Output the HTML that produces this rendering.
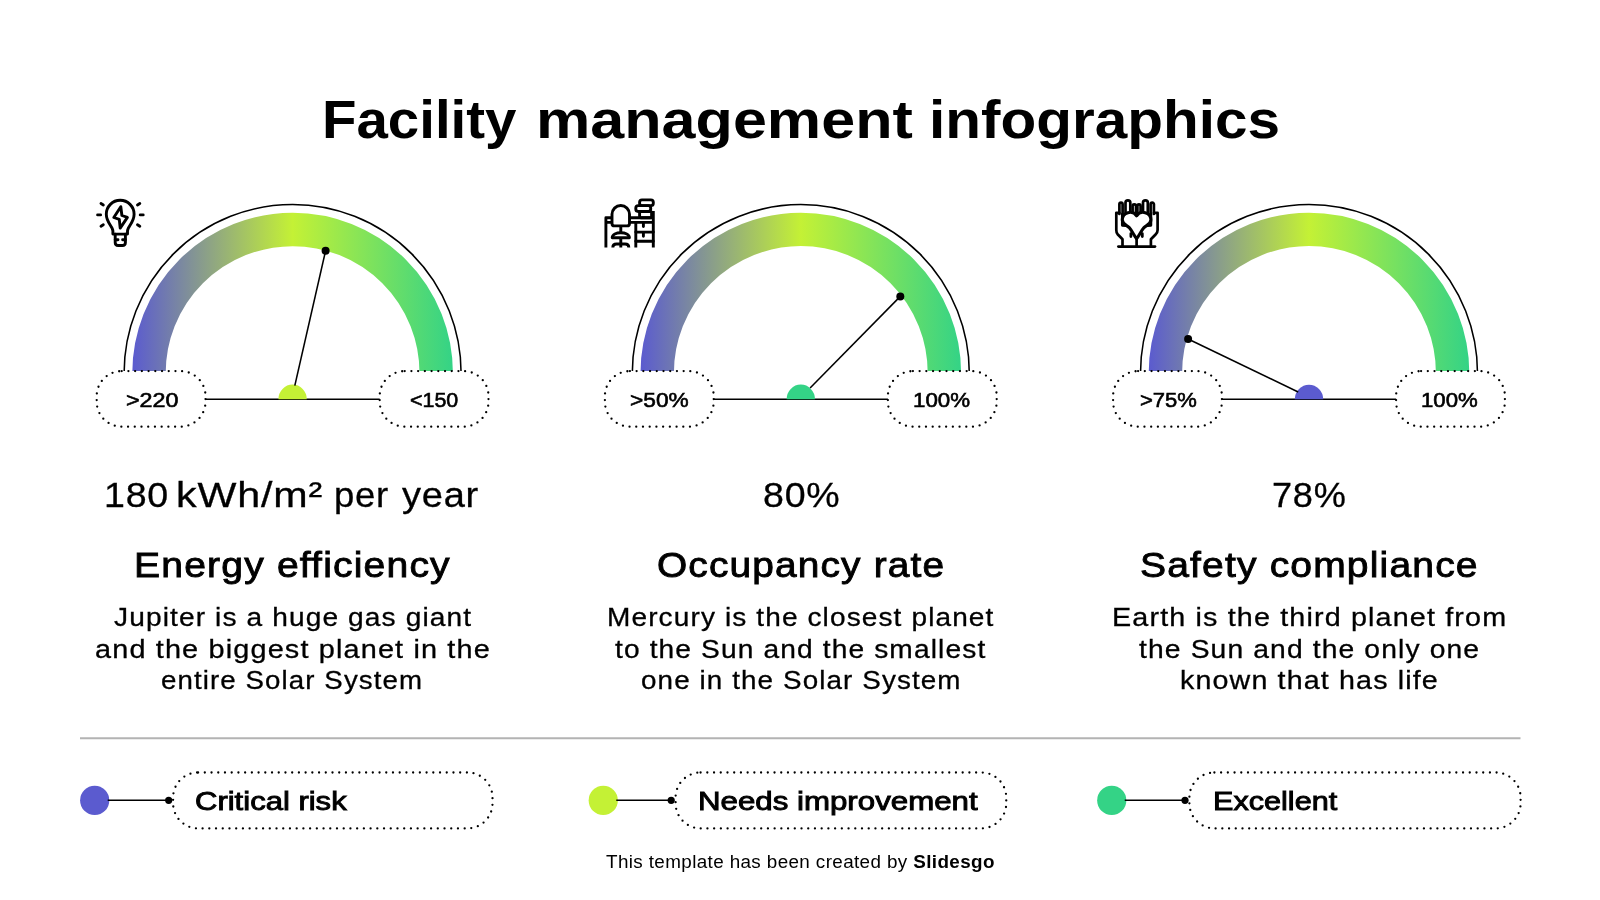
<!DOCTYPE html>
<html lang="en"><head><meta charset="utf-8"><title>Facility management infographics</title>
<style>
html,body{margin:0;padding:0;background:#fff}
body{width:1600px;height:900px;position:relative;overflow:hidden;font-family:"Liberation Sans", sans-serif;color:#000}
h1,h2,p,ul,li,section,footer{margin:0;padding:0;list-style:none;font-size:inherit;font-weight:inherit}
svg.g{position:absolute;left:0;top:0}
.t{position:absolute;display:block;white-space:nowrap;line-height:1;transform-origin:0 0;will-change:transform}
</style></head><body>
<svg class="g" width="1600" height="900" viewBox="0 0 1600 900">
<defs>
<linearGradient id="gr0" gradientUnits="userSpaceOnUse" x1="132.6" y1="0" x2="452.6" y2="0"><stop offset="0" stop-color="#5b5bcf"/><stop offset="0.5" stop-color="#c4f135"/><stop offset="1" stop-color="#34d386"/></linearGradient>
<linearGradient id="gr1" gradientUnits="userSpaceOnUse" x1="640.8" y1="0" x2="960.8" y2="0"><stop offset="0" stop-color="#5b5bcf"/><stop offset="0.5" stop-color="#c4f135"/><stop offset="1" stop-color="#34d386"/></linearGradient>
<linearGradient id="gr2" gradientUnits="userSpaceOnUse" x1="1149.0" y1="0" x2="1469.0" y2="0"><stop offset="0" stop-color="#5b5bcf"/><stop offset="0.5" stop-color="#c4f135"/><stop offset="1" stop-color="#34d386"/></linearGradient>
</defs>
<line x1="80" y1="738.2" x2="1520.5" y2="738.2" stroke="#b3b3b3" stroke-width="2"/>
<g>
<path d="M124.10,375.0 L124.10,373.0 A168.5,168.5 0 0 1 461.10,373.0 L461.10,375.0" fill="none" stroke="#000" stroke-width="1.55"/>
<path d="M149.00,375.0 L149.00,373.0 A143.6,143.6 0 0 1 436.20,373.0 L436.20,375.0" fill="none" stroke="url(#gr0)" stroke-width="33.4"/>
<line x1="202.6" y1="399.2" x2="382.6" y2="399.2" stroke="#000" stroke-width="1.55"/>
<path d="M278.4,399.2 A14.2,14.6 0 0 1 306.8,399.2 Z" fill="#c4f135"/>
<line x1="294.81" y1="385.67" x2="325.6" y2="250.7" stroke="#000" stroke-width="1.55"/>
<circle cx="325.6" cy="250.7" r="4" fill="#000"/>
<rect x="96.70" y="371.1" width="108.8" height="55.6" rx="25" stroke="#000" stroke-width="2.3" stroke-linecap="round" stroke-dasharray="0 6.72" fill="#fff"/>
<rect x="379.70" y="371.1" width="108.8" height="55.6" rx="25" stroke="#000" stroke-width="2.3" stroke-linecap="round" stroke-dasharray="0 6.72" fill="#fff"/>
</g>
<g>
<path d="M632.30,375.0 L632.30,373.0 A168.5,168.5 0 0 1 969.30,373.0 L969.30,375.0" fill="none" stroke="#000" stroke-width="1.55"/>
<path d="M657.20,375.0 L657.20,373.0 A143.6,143.6 0 0 1 944.40,373.0 L944.40,375.0" fill="none" stroke="url(#gr1)" stroke-width="33.4"/>
<line x1="710.8" y1="399.2" x2="890.8" y2="399.2" stroke="#000" stroke-width="1.55"/>
<path d="M786.6,399.2 A14.2,14.6 0 0 1 815.0,399.2 Z" fill="#34d386"/>
<line x1="810.09" y1="387.93" x2="900.3" y2="296.4" stroke="#000" stroke-width="1.55"/>
<circle cx="900.3" cy="296.4" r="4" fill="#000"/>
<rect x="604.90" y="371.1" width="108.8" height="55.6" rx="25" stroke="#000" stroke-width="2.3" stroke-linecap="round" stroke-dasharray="0 6.72" fill="#fff"/>
<rect x="887.90" y="371.1" width="108.8" height="55.6" rx="25" stroke="#000" stroke-width="2.3" stroke-linecap="round" stroke-dasharray="0 6.72" fill="#fff"/>
</g>
<g>
<path d="M1140.50,375.0 L1140.50,373.0 A168.5,168.5 0 0 1 1477.50,373.0 L1477.50,375.0" fill="none" stroke="#000" stroke-width="1.55"/>
<path d="M1165.40,375.0 L1165.40,373.0 A143.6,143.6 0 0 1 1452.60,373.0 L1452.60,375.0" fill="none" stroke="url(#gr2)" stroke-width="33.4"/>
<line x1="1219.0" y1="399.2" x2="1399.0" y2="399.2" stroke="#000" stroke-width="1.55"/>
<path d="M1294.8,399.2 A14.2,14.6 0 0 1 1323.2,399.2 Z" fill="#5b5bcf"/>
<line x1="1298.17" y1="392.06" x2="1188.1" y2="339" stroke="#000" stroke-width="1.55"/>
<circle cx="1188.1" cy="339" r="4" fill="#000"/>
<rect x="1113.10" y="371.1" width="108.8" height="55.6" rx="25" stroke="#000" stroke-width="2.3" stroke-linecap="round" stroke-dasharray="0 6.72" fill="#fff"/>
<rect x="1396.10" y="371.1" width="108.8" height="55.6" rx="25" stroke="#000" stroke-width="2.3" stroke-linecap="round" stroke-dasharray="0 6.72" fill="#fff"/>
</g>
<circle cx="94.7" cy="800.4" r="14.6" fill="#5b5bcf"/>
<line x1="107.7" y1="800.3" x2="168.7" y2="800.3" stroke="#000" stroke-width="1.55"/>
<circle cx="168.7" cy="800.3" r="3.6" fill="#000"/>
<rect x="173.1" y="772.5" width="319.40" height="55.9" rx="25" stroke="#000" stroke-width="2.3" stroke-linecap="round" stroke-dasharray="0 6.72" fill="#fff"/>
<circle cx="603.25" cy="800.4" r="14.6" fill="#c4f135"/>
<line x1="616.25" y1="800.3" x2="671.2" y2="800.3" stroke="#000" stroke-width="1.55"/>
<circle cx="671.2" cy="800.3" r="3.6" fill="#000"/>
<rect x="675.6" y="772.5" width="330.65" height="55.9" rx="25" stroke="#000" stroke-width="2.3" stroke-linecap="round" stroke-dasharray="0 6.72" fill="#fff"/>
<circle cx="1111.75" cy="800.4" r="14.6" fill="#34d386"/>
<line x1="1124.75" y1="800.3" x2="1185.0" y2="800.3" stroke="#000" stroke-width="1.55"/>
<circle cx="1185.0" cy="800.3" r="3.6" fill="#000"/>
<rect x="1189.4" y="772.5" width="331.20" height="55.9" rx="25" stroke="#000" stroke-width="2.3" stroke-linecap="round" stroke-dasharray="0 6.72" fill="#fff"/>
<g fill="none" stroke="#000" stroke-width="2.9" stroke-linecap="round" stroke-linejoin="round">
<path d="M112.9,234.1 L112.9,231 C112.9,226.5 106.3,222.5 106.3,214.2 A13.9,13.9 0 0 1 134.1,214.2 C134.1,222.5 127.5,226.5 127.5,231 L127.5,234.1 Z"/>
<path d="M115.2,234.1 L115.2,242.5 Q115.2,245.5 118.2,245.5 L122.4,245.5 Q125.4,245.5 125.4,242.5 L125.4,234.1"/>
<path d="M115.2,239.8 L118,239.8 M125.4,239.8 L122.6,239.8"/>
<path d="M120.8,206.8 L113.8,217.5 L119.3,219.4 L120.2,228.1 L127.4,217.4 L121.9,215.5 Z"/>
<path d="M97.6,214.9 L100.6,214.9 M140.2,214.9 L143.2,214.9 M101,203.6 L103.3,205 M101,226.2 L103.3,224.8 M137.5,205 L139.8,203.6 M137.5,224.8 L139.8,226.2"/>
</g>
<g fill="none" stroke="#000" stroke-width="2.9" stroke-linecap="round" stroke-linejoin="round">
<path d="M605.9,247.5 L605.9,217.7 L653.3,217.7 M605.9,222.4 L653.3,222.4" stroke-linecap="butt"/>
<path d="M653.3,211 L653.3,247.5 M635.8,222.4 L635.8,247.5" stroke-linecap="butt"/>
<path d="M635.8,232.1 L653.3,232.1 M635.8,241.2 L653.3,241.2 M643.4,223.5 L643.4,226.6 M643.4,233 L643.4,236.2"/>
<rect x="639.6" y="199.9" width="13.7" height="5.7" rx="2.4"/>
<rect x="635.8" y="205.6" width="14.9" height="5.9" rx="2.4"/>
<rect x="639.6" y="211.5" width="12" height="6.2" rx="1.5"/>
<path d="M612,223.4 L612,214.3 A8.75,8.75 0 0 1 629.5,214.3 L629.5,223.4 Q629.5,225.9 627,225.9 L614.5,225.9 Q612,225.9 612,223.4 Z" fill="#fff"/>
<path d="M620.8,225.9 L620.8,232.7 M620.8,237.8 L620.8,247.5" stroke-linecap="butt"/>
<path d="M612.2,237.8 C612.2,231 629.4,231 629.4,237.8 Z" fill="#fff"/>
<path d="M612.8,247.5 Q612.8,244 616.5,244 L625.1,244 Q628.8,244 628.8,247.5" stroke-linecap="butt"/>
</g>
<g fill="none" stroke="#000" stroke-width="2.7" stroke-linecap="round" stroke-linejoin="round">
<path d="M1118.4,246.6 L1155,246.6"/>
<path d="M1122.5,246.6 L1122.5,239.2 L1117.6,234.2 Q1116.3,232.6 1116.3,230 L1116.3,212.8 L1119.4,212.8"/>
<path d="M1150.9,246.6 L1150.9,239.2 L1155.8,234.2 Q1157.6,232.6 1157.6,230 L1157.6,212.8 L1154.0,212.8"/>
<path d="M1136.6,237 L1136.6,246.6"/>
<path d="M1119.4,214 L1119.4,204.20 A1.60,1.60 0 0 1 1122.6,204.20 L1122.6,214"/>
<path d="M1125.5,214 L1125.5,202.70 A2.40,2.40 0 0 1 1130.3,202.70 L1130.3,214"/>
<path d="M1132.6,214 L1132.6,206.00 A1.70,1.70 0 0 1 1136.0,206.00 L1136.0,214"/>
<path d="M1137.4,214 L1137.4,205.90 A1.60,1.60 0 0 1 1140.6,205.90 L1140.6,214"/>
<path d="M1143.0,214 L1143.0,202.70 A2.40,2.40 0 0 1 1147.8,202.70 L1147.8,214"/>
<path d="M1150.6,214 L1150.6,204.25 A1.65,1.65 0 0 1 1153.9,204.25 L1153.9,214"/>
<path d="M1122.3,214 L1122.3,225.3 L1126,225.6 M1150.9,214 L1150.9,225.3 L1147.2,225.6"/>
<path d="M1130.9,233.6 L1130.9,236.6 M1142.3,233.6 L1142.3,236.6" stroke-width="2.8"/>
<path d="M1136.6,238.6 C1134.6,236.6 1132.6,231.6 1129.2,227.6 C1127,225.2 1122.3,224.4 1122.3,219.8 C1122.3,212.5 1132.5,209.5 1136.6,215.8 C1140.7,209.5 1150.9,212.5 1150.9,219.8 C1150.9,224.4 1146.2,225.2 1144,227.6 C1140.6,231.6 1138.6,236.6 1136.6,238.6 Z" fill="#fff" stroke-width="3.1"/>
</g>
</svg>
<h1><span class="t" style="left:321.88px;top:93.10px;transform:scaleX(1.0386);font-weight:700;font-size:54.35px;">Facility</span> <span class="t" style="left:535.53px;top:93.10px;transform:scaleX(1.1241);font-weight:700;font-size:54.35px;">management</span> <span class="t" style="left:928.89px;top:93.10px;transform:scaleX(1.0766);font-weight:700;font-size:54.35px;">infographics</span></h1>
<section>
<div class="scale"><span class="t" style="left:125.50px;top:389.70px;transform:scaleX(1.1283);font-weight:400;font-size:20.68px;-webkit-text-stroke:0.6px #000;">&gt;220</span> <span class="t" style="left:410.30px;top:389.70px;transform:scaleX(1.0370);font-weight:400;font-size:20.68px;-webkit-text-stroke:0.6px #000;">&lt;150</span></div>
<div class="value"><span class="t" style="left:104.27px;top:476.90px;transform:scaleX(1.0638);font-weight:400;font-size:35.34px;-webkit-text-stroke:0.3px #000;letter-spacing:0.02em;">180</span> <span class="t" style="left:175.77px;top:476.90px;transform:scaleX(1.1675);font-weight:400;font-size:35.34px;-webkit-text-stroke:0.3px #000;letter-spacing:0.02em;">kWh/m²</span> <span class="t" style="left:333.53px;top:476.90px;transform:scaleX(1.0333);font-weight:400;font-size:35.34px;-webkit-text-stroke:0.3px #000;letter-spacing:0.02em;">per</span> <span class="t" style="left:402.20px;top:476.90px;transform:scaleX(1.0761);font-weight:400;font-size:35.34px;-webkit-text-stroke:0.3px #000;letter-spacing:0.02em;">year</span></div>
<h2 class="t" style="left:134.22px;top:546.90px;transform:scaleX(1.0879);font-weight:400;font-size:35.94px;-webkit-text-stroke:0.9px #000;letter-spacing:0.03em;">Energy efficiency</h2>
<p><span class="t" style="left:113.90px;top:604.80px;transform:scaleX(1.0887);font-weight:400;font-size:25.80px;-webkit-text-stroke:0.3px #000;letter-spacing:0.04em;">Jupiter is a huge gas giant</span>
<span class="t" style="left:94.98px;top:636.50px;transform:scaleX(1.1182);font-weight:400;font-size:25.80px;-webkit-text-stroke:0.3px #000;letter-spacing:0.04em;">and the biggest planet in the</span>
<span class="t" style="left:161.43px;top:668.40px;transform:scaleX(1.0711);font-weight:400;font-size:25.80px;-webkit-text-stroke:0.3px #000;letter-spacing:0.04em;">entire Solar System</span></p>
</section>
<section>
<div class="scale"><span class="t" style="left:630.40px;top:389.70px;transform:scaleX(1.0981);font-weight:400;font-size:20.68px;-webkit-text-stroke:0.6px #000;">&gt;50%</span> <span class="t" style="left:912.72px;top:389.70px;transform:scaleX(1.0788);font-weight:400;font-size:20.68px;-webkit-text-stroke:0.6px #000;">100%</span></div>
<div class="value"><span class="t" style="left:762.54px;top:476.90px;transform:scaleX(1.0629);font-weight:400;font-size:35.34px;-webkit-text-stroke:0.3px #000;letter-spacing:0.02em;">80%</span></div>
<h2 class="t" style="left:656.92px;top:546.90px;transform:scaleX(1.0807);font-weight:400;font-size:35.94px;-webkit-text-stroke:0.9px #000;letter-spacing:0.03em;">Occupancy rate</h2>
<p><span class="t" style="left:606.73px;top:604.80px;transform:scaleX(1.0859);font-weight:400;font-size:25.80px;-webkit-text-stroke:0.3px #000;letter-spacing:0.04em;">Mercury is the closest planet</span>
<span class="t" style="left:615.00px;top:636.50px;transform:scaleX(1.0906);font-weight:400;font-size:25.80px;-webkit-text-stroke:0.3px #000;letter-spacing:0.04em;">to the Sun and the smallest</span>
<span class="t" style="left:641.12px;top:668.40px;transform:scaleX(1.0772);font-weight:400;font-size:25.80px;-webkit-text-stroke:0.3px #000;letter-spacing:0.04em;">one in the Solar System</span></p>
</section>
<section>
<div class="scale"><span class="t" style="left:1139.50px;top:389.70px;transform:scaleX(1.0642);font-weight:400;font-size:20.68px;-webkit-text-stroke:0.6px #000;">&gt;75%</span> <span class="t" style="left:1420.93px;top:389.70px;transform:scaleX(1.0731);font-weight:400;font-size:20.68px;-webkit-text-stroke:0.6px #000;">100%</span></div>
<div class="value"><span class="t" style="left:1271.78px;top:476.90px;transform:scaleX(1.0229);font-weight:400;font-size:35.34px;-webkit-text-stroke:0.3px #000;letter-spacing:0.02em;">78%</span></div>
<h2 class="t" style="left:1139.71px;top:546.90px;transform:scaleX(1.0861);font-weight:400;font-size:35.94px;-webkit-text-stroke:0.9px #000;letter-spacing:0.03em;">Safety compliance</h2>
<p><span class="t" style="left:1111.67px;top:604.80px;transform:scaleX(1.1134);font-weight:400;font-size:25.80px;-webkit-text-stroke:0.3px #000;letter-spacing:0.04em;">Earth is the third planet from</span>
<span class="t" style="left:1138.90px;top:636.50px;transform:scaleX(1.0948);font-weight:400;font-size:25.80px;-webkit-text-stroke:0.3px #000;letter-spacing:0.04em;">the Sun and the only one</span>
<span class="t" style="left:1179.99px;top:668.40px;transform:scaleX(1.1100);font-weight:400;font-size:25.80px;-webkit-text-stroke:0.3px #000;letter-spacing:0.04em;">known that has life</span></p>
</section>
<ul><li><span class="t" style="left:195.40px;top:788.70px;transform:scaleX(1.2024);font-weight:400;font-size:25.80px;-webkit-text-stroke:0.9px #000;">Critical risk</span></li>
<li><span class="t" style="left:698.49px;top:788.70px;transform:scaleX(1.2113);font-weight:400;font-size:25.80px;-webkit-text-stroke:0.9px #000;">Needs improvement</span></li>
<li><span class="t" style="left:1213.21px;top:788.70px;transform:scaleX(1.1865);font-weight:400;font-size:25.80px;-webkit-text-stroke:0.9px #000;">Excellent</span></li></ul>
<footer class="t" style="left:605.90px;top:853.50px;transform:scaleX(1.0665);font-weight:400;font-size:17.68px;letter-spacing:0.02em;">This template has been created by <b>Slidesgo</b></footer>
</body></html>
